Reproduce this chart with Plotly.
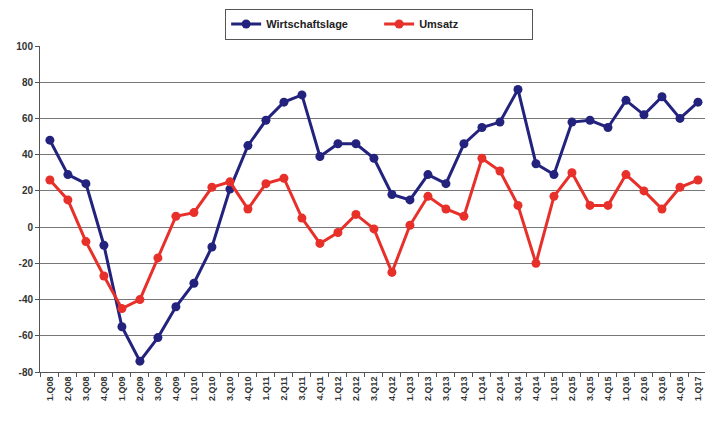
import plotly.graph_objects as go

quarters = ["1.Q08","2.Q08","3.Q08","4.Q08","1.Q09","2.Q09","3.Q09","4.Q09",
            "1.Q10","2.Q10","3.Q10","4.Q10","1.Q11","2.Q11","3.Q11","4.Q11",
            "1.Q12","2.Q12","3.Q12","4.Q12","1.Q13","2.Q13","3.Q13","4.Q13",
            "1.Q14","2.Q14","3.Q14","4.Q14","1.Q15","2.Q15","3.Q15","4.Q15",
            "1.Q16","2.Q16","3.Q16","4.Q16","1.Q17"]

wirtschaftslage = [48, 29, 24, -10, -55, -74, -61, -44, -31, -11, 21, 45, 59, 69, 73, 39,
                   46, 46, 38, 18, 15, 29, 24, 46, 55, 58, 76, 35, 29, 58, 59, 55,
                   70, 62, 72, 60, 69]
umsatz = [26, 15, -8, -27, -45, -40, -17, 6, 8, 22, 25, 10, 24, 27, 5, -9,
          -3, 7, -1, -25, 1, 17, 10, 6, 38, 31, 12, -20, 17, 30, 12, 12,
          29, 20, 10, 22, 26]

y_ticks = [-80, -60, -40, -20, 0, 20, 40, 60, 80, 100]
y_tick_labels = ["-80", "-60", "-40", "-20", "0", "20", "40", "60", "80", "100"]

navy = "#23237e"
red = "#e8302a"

fig = go.Figure()
fig.add_trace(go.Scatter(x=quarters, y=wirtschaftslage, name="Wirtschaftslage",
                         mode="lines+markers", line=dict(color=navy, width=3),
                         marker=dict(color=navy, size=9), cliponaxis=False))
fig.add_trace(go.Scatter(x=quarters, y=umsatz, name="Umsatz",
                         mode="lines+markers", line=dict(color=red, width=3),
                         marker=dict(color=red, size=9), cliponaxis=False))

font_family = "Liberation Sans, Arial, sans-serif"

# the page body adds an 8px margin on every side; keep the figure inside it
fig.update_layout(
    width=697, height=408,
    margin=dict(l=32, r=0, t=38, b=44, autoexpand=False),
    paper_bgcolor="white", plot_bgcolor="white",
    font=dict(family=font_family, color="#333333"),
    showlegend=True,
    legend=dict(orientation="h", x=0.51, xanchor="center", y=1.115, yanchor="top",
                bgcolor="white", bordercolor="#555555", borderwidth=1,
                font=dict(size=11, color="#222222", family=font_family, weight="bold"),
                itemwidth=30, entrywidth=108, tracegroupgap=0),
    xaxis=dict(type="category", range=[-0.55, 36.39], tickangle=-90,
               tickson="boundaries", ticks="outside", ticklen=4, tickcolor="#555555",
               showgrid=False, showline=True, linecolor="#555555", automargin=False,
               tickfont=dict(size=9, color="#333333", weight="bold")),
    yaxis=dict(range=[-80, 100], tickvals=y_ticks, ticktext=y_tick_labels,
               ticks="outside", ticklen=4, automargin=False,
               tickcolor="#555555", showline=True, linecolor="#555555",
               gridcolor="#777777", gridwidth=1, zeroline=False,
               tickfont=dict(size=10, color="#333333", weight="bold")),
)

fig.write_html("out.html")
